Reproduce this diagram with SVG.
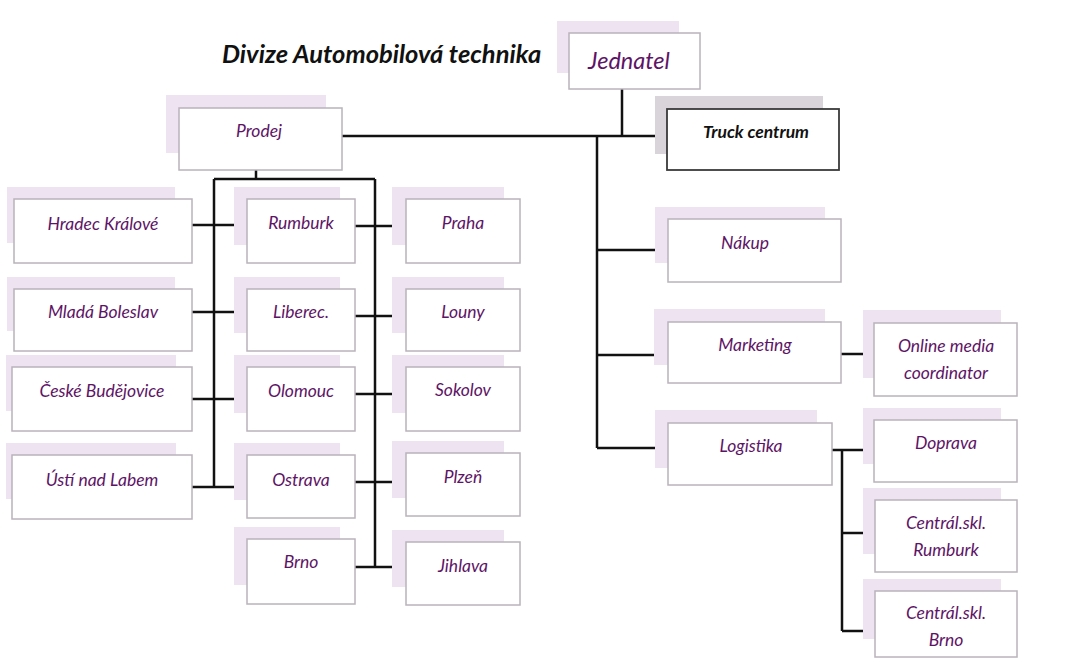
<svg xmlns="http://www.w3.org/2000/svg" width="1070" height="661" viewBox="0 0 1070 661">
<style>
.bg{fill:#ffffff}
.sh{fill:#ede3f1}
.shg{fill:#d9d4da}
.box{fill:#ffffff;stroke:#b9b3bb;stroke-width:1.5}
.boxd{fill:#ffffff;stroke:#3a3a3a;stroke-width:1.8}
.t{font-family:Lato,"Open Sans",sans-serif;font-style:italic;font-size:17.5px;fill:#5e1466;text-anchor:middle}
.tb{font-family:Lato,"Open Sans",sans-serif;font-style:italic;font-weight:bold;font-size:17.5px;fill:#111;text-anchor:middle}
.title{font-family:Lato,"Open Sans",sans-serif;font-style:italic;font-weight:bold;font-size:25.5px;fill:#111}
.ln{fill:none;stroke:#111;stroke-width:2.5}
</style>
<rect class="bg" x="0" y="0" width="1070" height="661"/>
<text class="title" x="222" y="63">Divize Automobilová technika</text>

<g id="connectors">
<path class="ln" d="M622 89V136M342 136H668M597 136V448M597 250H668M597 355H668M597 448H668"/>
<path class="ln" d="M841 354H874M832 450H874M842 450V631M842 533H875M842 631H875"/>
<path class="ln" d="M256 170V179M214 179H375M214 179V487M375 179V567"/>
<path class="ln" d="M192 225H247M355 226H406M192 312H247M355 316H406M192 399H247M355 394H406M192 487H247M355 482H406M355 567H406"/>
</g>

<g id="jednatel"><rect class="sh" x="557" y="21" width="122" height="52"/><rect class="box" x="569" y="33" width="131" height="56"/><text class="t" style="font-size:23.5px" x="629" y="69">Jednatel</text></g>
<g id="truck"><rect class="shg" x="655" y="96" width="168" height="58"/><rect class="boxd" x="667" y="109" width="172" height="61"/><text class="tb" x="756" y="138">Truck centrum</text></g>
<g id="prodej"><rect class="sh" x="166" y="95" width="160" height="58"/><rect class="box" x="179" y="108" width="163" height="62"/><text class="t" x="259" y="137">Prodej</text></g>

<g id="hradec"><rect class="sh" x="7" y="187" width="168" height="56"/><rect class="box" x="14" y="199" width="178" height="64"/><text class="t" x="103" y="230">Hradec Králové</text></g>
<g id="mlada"><rect class="sh" x="7" y="277" width="168" height="54"/><rect class="box" x="14" y="289" width="178" height="62"/><text class="t" x="103" y="318">Mladá Boleslav</text></g>
<g id="ceske"><rect class="sh" x="6" y="355" width="170" height="56"/><rect class="box" x="12" y="367" width="180" height="64"/><text class="t" x="102" y="397">České Budějovice</text></g>
<g id="usti"><rect class="sh" x="6" y="443" width="170" height="56"/><rect class="box" x="12" y="455" width="180" height="64"/><text class="t" x="102" y="486">Ústí nad Labem</text></g>

<g id="rumburk"><rect class="sh" x="234" y="187" width="106" height="58"/><rect class="box" x="247" y="199" width="108" height="64"/><text class="t" x="301" y="229">Rumburk</text></g>
<g id="liberec"><rect class="sh" x="234" y="277" width="106" height="56"/><rect class="box" x="247" y="289" width="108" height="62"/><text class="t" x="301" y="318">Liberec.</text></g>
<g id="olomouc"><rect class="sh" x="234" y="355" width="106" height="58"/><rect class="box" x="247" y="367" width="108" height="64"/><text class="t" x="301" y="397">Olomouc</text></g>
<g id="ostrava"><rect class="sh" x="234" y="443" width="106" height="57"/><rect class="box" x="247" y="455" width="108" height="63"/><text class="t" x="301" y="486">Ostrava</text></g>
<g id="brno"><rect class="sh" x="234" y="527" width="106" height="58"/><rect class="box" x="247" y="539" width="108" height="65"/><text class="t" x="301" y="568">Brno</text></g>

<g id="praha"><rect class="sh" x="392" y="187" width="112" height="58"/><rect class="box" x="406" y="199" width="114" height="64"/><text class="t" x="463" y="229">Praha</text></g>
<g id="louny"><rect class="sh" x="392" y="277" width="112" height="56"/><rect class="box" x="406" y="289" width="114" height="62"/><text class="t" x="463" y="318">Louny</text></g>
<g id="sokolov"><rect class="sh" x="392" y="355" width="112" height="58"/><rect class="box" x="406" y="367" width="114" height="64"/><text class="t" x="463" y="396">Sokolov</text></g>
<g id="plzen"><rect class="sh" x="392" y="441" width="112" height="57"/><rect class="box" x="406" y="453" width="114" height="63"/><text class="t" x="463" y="483">Plzeň</text></g>
<g id="jihlava"><rect class="sh" x="392" y="530" width="112" height="57"/><rect class="box" x="406" y="542" width="114" height="63"/><text class="t" x="463" y="572">Jihlava</text></g>

<g id="nakup"><rect class="sh" x="655" y="207" width="170" height="56"/><rect class="box" x="668" y="219" width="173" height="63"/><text class="t" x="745" y="249">Nákup</text></g>
<g id="marketing"><rect class="sh" x="654" y="309" width="171" height="56"/><rect class="box" x="668" y="322" width="173" height="61"/><text class="t" x="755" y="351">Marketing</text></g>
<g id="online"><rect class="sh" x="863" y="310" width="138" height="68"/><rect class="box" x="874" y="323" width="143" height="73"/><text class="t" x="946" y="352">Online media</text><text class="t" x="946" y="379">coordinator</text></g>
<g id="logistika"><rect class="sh" x="655" y="410" width="162" height="58"/><rect class="box" x="668" y="423" width="164" height="62"/><text class="t" x="751" y="452">Logistika</text></g>
<g id="doprava"><rect class="sh" x="863" y="408" width="138" height="56"/><rect class="box" x="874" y="420" width="143" height="62"/><text class="t" x="946" y="449">Doprava</text></g>
<g id="cs-rumburk"><rect class="sh" x="863" y="488" width="138" height="66"/><rect class="box" x="875" y="500" width="142" height="72"/><text class="t" x="946" y="529">Centrál.skl.</text><text class="t" x="946" y="556">Rumburk</text></g>
<g id="cs-brno"><rect class="sh" x="863" y="579" width="138" height="60"/><rect class="box" x="875" y="591" width="142" height="66"/><text class="t" x="946" y="619">Centrál.skl.</text><text class="t" x="946" y="646">Brno</text></g>
</svg>
